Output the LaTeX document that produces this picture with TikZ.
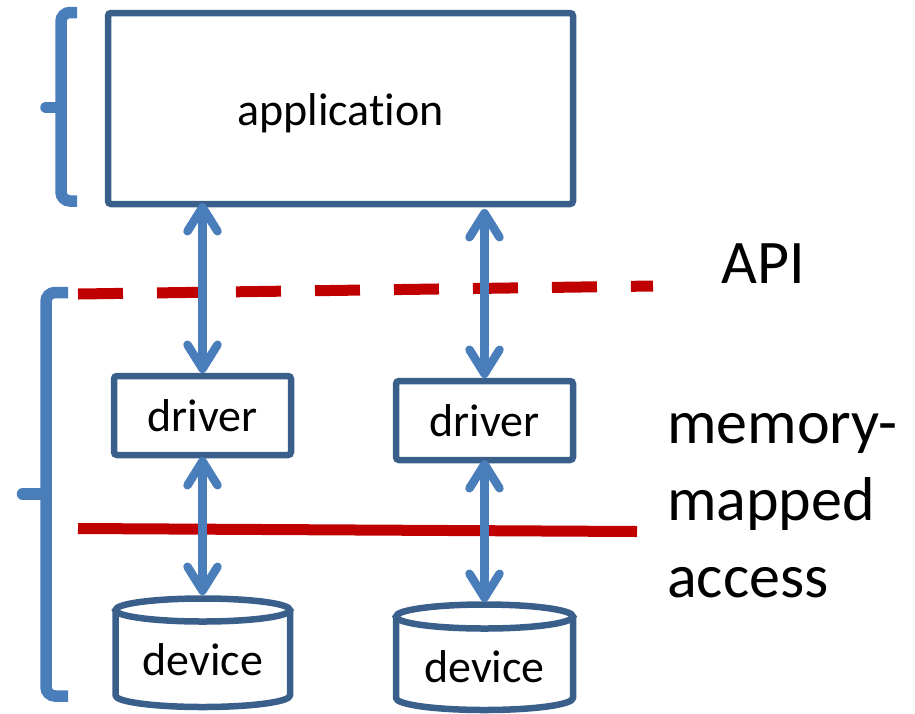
\documentclass[tikz,border=0pt]{standalone}
\usepackage{fontspec}
\setmainfont{Carlito}[Ligatures=NoCommon, Contextuals=NoAlternate]
\usetikzlibrary{arrows.meta,calc}

\definecolor{boxblue}{HTML}{3A5F8B}
\definecolor{arrowblue}{HTML}{4A7EBB}
\definecolor{layerred}{HTML}{C00000}

\begin{document}
\begin{tikzpicture}[x=1pt, y=-1pt,
  boxline/.style={draw=boxblue, line width=6.5pt},
  block/.style={boxline, rectangle, rounded corners=3pt, outer sep=0pt,
    inner sep=0pt, font=\fontsize{46}{55}\selectfont},
  drumbody/.style={rectangle, draw=none, outer sep=0pt, inner sep=0pt,
    font=\fontsize{46}{55}\selectfont},
  biarrow/.style={draw=arrowblue, line width=8.5pt, shorten >=3pt,
    {Straight Barb[round, length=24pt, width=30pt]}-{Straight Barb[round, length=24pt, width=30pt]}},
  bracket/.style={draw=arrowblue, line width=11.5pt, rounded corners=9pt},
  brackettick/.style={draw=arrowblue, line width=11.5pt, line cap=round},
  layer/.style={draw=layerred, line width=11pt},
  sidelabel/.style={inner sep=0pt, font=\fontsize{62}{77}\selectfont, align=left}
]
\useasboundingbox (0,0) rectangle (915,713);

% application, drivers and devices
\node[block, minimum width=465pt, minimum height=191pt,
      text height=40pt, text depth=7pt] (app) at (340.5,108.5) {applicat\kern0pt ion};
\node[block, minimum width=177pt, minimum height=79pt,
      text height=38pt, text depth=7pt] (drvL) at (202.5,415.5) {driver};
\node[block, minimum width=177pt, minimum height=79pt,
      text height=38pt, text depth=7pt] (drvR) at (484.5,420.5) {driver};

\node[drumbody, minimum width=174.5pt, minimum height=108.5pt,
      text height=50pt, text depth=5.5pt] (devL) at (202.75,652.75) {device};
\node[drumbody, minimum width=177pt, minimum height=105.5pt,
      text height=55pt, text depth=5.5pt] (devR) at (484.5,657.25) {device};

% cylinder outlines round the device labels
\draw[boxline] ($(devL.north)+(0,11.5)$) ellipse [x radius=87.25pt, y radius=11.5pt];
\draw[boxline, line join=round] ($(devL.north west)+(0,11.5)$) -- ($(devL.south west)+(0,-11.5)$)
  arc [start angle=180, end angle=360, x radius=87.25pt, y radius=11.5pt]
  -- ($(devL.north east)+(0,11.5)$);
\draw[boxline] ($(devR.north)+(0,12)$) ellipse [x radius=88.5pt, y radius=12pt];
\draw[boxline, line join=round] ($(devR.north west)+(0,12)$) -- ($(devR.south west)+(0,-12)$)
  arc [start angle=180, end angle=360, x radius=88.5pt, y radius=12pt]
  -- ($(devR.north east)+(0,12)$);

% layer boundaries
\coordinate (apiL) at (78,294);
\coordinate (apiR) at (653,286);
\coordinate (mmioL) at (78,528.5);
\coordinate (mmioR) at (637,531.5);
\draw[layer, dash pattern=on 45pt off 34pt] (apiL) -- (apiR);
\draw[layer] (mmioL) -- (mmioR);

% two-way links
\draw[biarrow, shorten <=-1pt] (app.south -| drvL.north) -- (drvL.north);
\draw[biarrow, shorten <=5pt] (app.south -| drvR.north) -- (drvR.north);
\draw[biarrow, shorten <=2pt, shorten >=3.5pt] (drvL.south) -- (drvL.south |- devL.north);
\draw[biarrow, shorten <=0pt, shorten >=2.5pt] (drvR.south) -- (drvR.south |- devR.north);

% brackets on the left
\draw[bracket] (77,12.5) -- (61,12.5) -- (61,201) -- (77,201);
\draw[brackettick] (61,107.5) -- (46,107.5);
\draw[bracket] (68,292.5) -- (46,292.5) -- (46,696) -- (68,696);
\draw[brackettick] (46,494) -- (22.5,494);

% layer names (a multi-line node's base is its last line)
\node[sidelabel, anchor=base west] (api) at (721,283) {API};
\node[sidelabel, anchor=base west] (mmio) at (667,597) {memory-\\mapped\\access};
\end{tikzpicture}
\end{document}
